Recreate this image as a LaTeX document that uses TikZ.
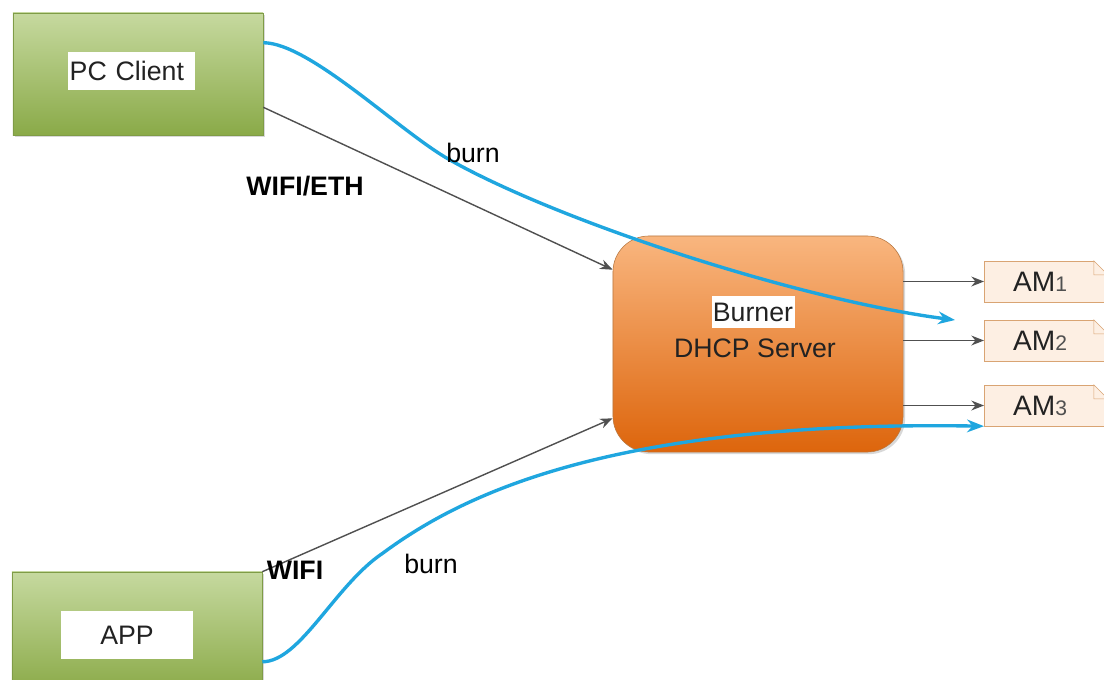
\documentclass[tikz,border=0pt]{standalone}
\usepackage{fontspec}
\setmainfont{Liberation Sans}
\usepackage{tikz}
\usetikzlibrary{arrows.meta,positioning,shadows,calc}

\definecolor{pcgreentop}{HTML}{C6D99F}
\definecolor{pcgreenbot}{HTML}{8AAA48}
\definecolor{pcgreenline}{HTML}{7F9C46}
\definecolor{burntop}{HTML}{F9B67F}
\definecolor{burnbot}{HTML}{DD650C}
\definecolor{burnline}{HTML}{B97840}
\definecolor{amfill}{HTML}{FDEFE3}
\definecolor{amline}{HTML}{D9A473}
\definecolor{burnblue}{HTML}{1FA6DF}
\definecolor{linkgray}{HTML}{505050}
\definecolor{txtgray}{HTML}{222222}
\definecolor{numgray}{HTML}{505050}

\begin{document}
\begin{tikzpicture}[
  x=0.025cm, y=-0.025cm, >=Stealth, text=txtgray,
  font=\fontsize{19}{22}\selectfont,
  client/.style={rectangle, draw=pcgreenline, top color=pcgreentop, bottom color=pcgreenbot, minimum width=6.25cm, drop shadow={shadow xshift=1.5pt, shadow yshift=-1.5pt, opacity=0.3}},
  server/.style={rectangle, rounded corners=0.9cm, draw=burnline, top color=burntop, bottom color=burnbot, minimum width=7.25cm, minimum height=5.4cm, drop shadow={shadow xshift=1.5pt, shadow yshift=-1.5pt, opacity=0.3}},
  tag/.style={fill=white, inner xsep=1pt, inner ysep=0pt},
  amfile/.style={rectangle, draw=amline, fill=amfill, anchor=west, minimum height=1.02cm, text width=1.64cm, inner xsep=0.72cm, align=left, font=\fontsize{20}{22}\selectfont},
  fold/.style={draw=amline, fill=amfill},
  link/.style={draw=linkgray, line width=1pt, -{Stealth[length=9pt,width=7pt]}},
  burnline/.style={draw=burnblue, line width=2.4pt, -{Stealth[length=12pt,width=9pt]}},
  lbl/.style={inner sep=0pt, text=black}
]
\useasboundingbox (0,0) rectangle (1104,679);
\fill[white] (0,0) rectangle (1104,679);
\clip (0,0) rectangle (1104,679);

% clients
\node[client, minimum height=3.05cm] (pc) at (138,74) {};
\node[tag, anchor=west, minimum height=0.95cm, text width=3.1cm, align=left] (pctag) at (68,71) {PC Client};
\node[client, minimum height=3.0cm] (app) at (137,632) {};
\node[tag, minimum height=1.2cm, text width=3.25cm, align=center] (apptag) at (127,635) {APP};

% burner
\node[server] (burner) at (758,344) {};
\node[tag, minimum height=0.82cm] (burnertag) at (753,312) {Burner};
\node[inner sep=0pt] (dhcp) at (755,348) {DHCP Server};

% modules
\node[amfile] (am1) at (984,281.5) {AM{\fontsize{15}{15}\selectfont\color{numgray}1}};
\node[amfile] (am2) at (984,340.5) {AM{\fontsize{15}{15}\selectfont\color{numgray}2}};
\node[amfile] (am3) at (984,405.5) {AM{\fontsize{15}{15}\selectfont\color{numgray}3}};
\fill[white] (am1.north east) -- ++(-14,0) -- ++(14,14) -- cycle;
\draw[fold] ([xshift=-0.35cm]am1.north east) -- ++(0,14) -- ++(14,0) -- cycle;
\fill[white] (am2.north east) -- ++(-14,0) -- ++(14,14) -- cycle;
\draw[fold] ([xshift=-0.35cm]am2.north east) -- ++(0,14) -- ++(14,0) -- cycle;
\fill[white] (am3.north east) -- ++(-14,0) -- ++(14,14) -- cycle;
\draw[fold] ([xshift=-0.35cm]am3.north east) -- ++(0,14) -- ++(14,0) -- cycle;

% links
\draw[link] ([yshift=0.7cm]pc.south east) -- ([yshift=-0.85cm]burner.north west);
\draw[link] (app.north east) -- ([yshift=0.85cm]burner.south west);
\draw[link] (burner.east |- am1.west) -- (am1.west);
\draw[link] (burner.east |- am2.west) -- (am2.west);
\draw[link] (burner.east |- am3.west) -- (am3.west);

% burn paths
\coordinate (burnend) at (955,320);
\draw[burnline] ([yshift=-0.75cm]pc.north east) .. controls (310,43) and (400,132) .. (450,160)
  .. controls (560,222) and (800,300) .. (burnend);
\draw[burnline] ([yshift=-2.25cm]app.north east) .. controls (300,662) and (335,585) .. (383,553)
  .. controls (455,500) and (600,420) .. (am3.south west);

% labels
\node[lbl] (burntop) at (473,153) {burn};
\node[lbl, font=\fontsize{19}{22}\selectfont\bfseries] (wifieth) at (305,186) {WIFI/ETH};
\node[lbl, font=\fontsize{19}{22}\selectfont\bfseries] (wifi) at (295,570) {WIFI};
\node[lbl] (burnbot) at (431,564) {burn};
\end{tikzpicture}
\end{document}
